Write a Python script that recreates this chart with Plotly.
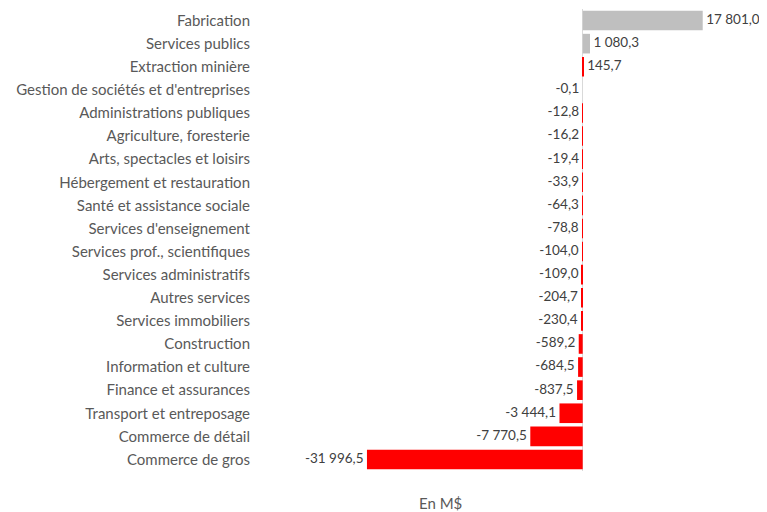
import plotly.graph_objects as go

categories = [
    "Fabrication",
    "Services publics",
    "Extraction minière",
    "Gestion de sociétés et d'entreprises",
    "Administrations publiques",
    "Agriculture, foresterie",
    "Arts, spectacles et loisirs",
    "Hébergement et restauration",
    "Santé et assistance sociale",
    "Services d'enseignement",
    "Services prof., scientifiques",
    "Services administratifs",
    "Autres services",
    "Services immobiliers",
    "Construction",
    "Information et culture",
    "Finance et assurances",
    "Transport et entreposage",
    "Commerce de détail",
    "Commerce de gros",
]
values = [17801.0, 1080.3, 145.7, -0.1, -12.8, -16.2, -19.4, -33.9, -64.3, -78.8,
          -104.0, -109.0, -204.7, -230.4, -589.2, -684.5, -837.5, -3444.1, -7770.5, -31996.5]
colors = ["#BFBFBF", "#BFBFBF"] + ["#FF0000"] * (len(values) - 2)

NBSP = "\u00a0"


def fr(v):
    # format français : espace pour les milliers, virgule décimale
    s = f"{v:,.1f}".replace(",", " ").replace(".", ",")
    return NBSP + s if v > 0 else s + NBSP


labels = [fr(v) for v in values]
positions = ["middle right" if v > 0 else "middle left" for v in values]

# la page est décalée de 8 px (marge du body) : on compense
W, H = 759, 504
L, R, T, B = 305, 9, 1, 41

fig = go.Figure()
fig.add_trace(go.Bar(
    x=values,
    y=categories,
    orientation="h",
    marker=dict(color=colors, line=dict(width=0)),
    hoverinfo="x+y",
))
fig.add_trace(go.Scatter(
    x=values,
    y=categories,
    mode="text",
    text=labels,
    textposition=positions,
    textfont=dict(color="#404040", size=13.5),
    cliponaxis=False,
    hoverinfo="skip",
))

fig.update_layout(
    width=W,
    height=H,
    paper_bgcolor="white",
    plot_bgcolor="white",
    font=dict(family="Lato, sans-serif", size=15, color="#595959"),
    margin=dict(l=L, r=R, t=T, b=B, autoexpand=False),
    bargap=0.15,
    showlegend=False,
)
fig.update_xaxes(range=[-40000, 26000], showticklabels=False, showgrid=False,
                 zeroline=True, zerolinecolor="#D9D9D9", zerolinewidth=1,
                 automargin=False)
fig.update_yaxes(range=[len(categories) - 0.5, -0.5], showgrid=False, ticks="",
                 automargin=False, ticklabelstandoff=62,
                 tickfont=dict(size=15, color="#595959"))

pw, ph = W - L - R, H - T - B
fig.add_annotation(text="En M$", xref="paper", yref="paper",
                   x=(432 - L) / pw, y=-(495 - (H - B)) / ph,
                   xanchor="center", yanchor="middle", showarrow=False)

fig.write_html("out.html")
